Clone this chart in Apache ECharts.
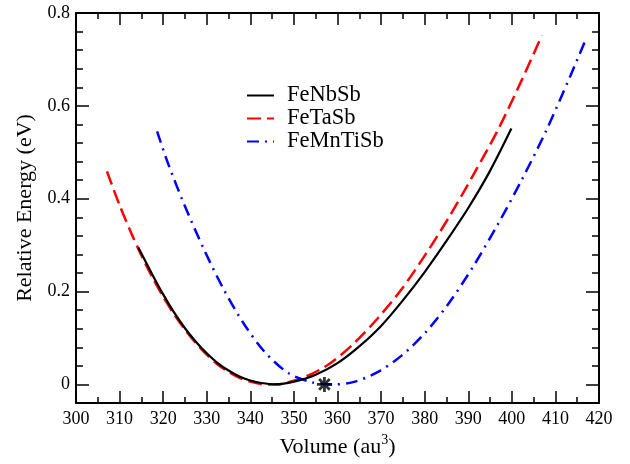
<!DOCTYPE html>
<html>
<head>
<meta charset="utf-8">
<script src="https://cdn.jsdelivr.net/npm/echarts@6/dist/echarts.min.js"></script>
<style>html,body{margin:0;padding:0;background:#fff}#c{width:630px;height:464px}</style>
</head>
<body>
<div id="c"></div>
<script>
// Data
var nbV = [314.3, 317.5, 320.0, 322.5, 325.0, 327.5, 330.0, 332.5, 335.0, 337.5, 340.0, 342.5, 345.8, 350.0, 355.0, 360.0, 365.0, 370.0, 375.0, 380.0, 385.0, 390.0, 395.0, 399.9];
var nbE = [0.295, 0.237, 0.194, 0.155, 0.121, 0.092, 0.067, 0.046, 0.030, 0.017, 0.0085, 0.003, 0.000, 0.006, 0.021, 0.046, 0.082, 0.126, 0.181, 0.242, 0.309, 0.380, 0.460, 0.551];

var taV = [307.1, 310.0, 312.5, 315.0, 317.5, 320.0, 322.5, 325.0, 327.5, 330.0, 332.5, 335.0, 337.5, 340.0, 342.5, 345.2, 347.0, 352.5, 358.1, 363.6, 369.1, 374.7, 380.2, 385.7, 391.2, 396.8, 402.3, 406.9];
var taE = [0.459, 0.386, 0.330, 0.278, 0.231, 0.189, 0.151, 0.118, 0.089, 0.064, 0.043, 0.027, 0.014, 0.006, 0.001, 0.000, 0.001, 0.016, 0.044, 0.087, 0.141, 0.205, 0.280, 0.362, 0.452, 0.548, 0.656, 0.752];

var mnV = [318.6, 321.2, 324.9, 329.5, 334.1, 338.7, 343.3, 348.8, 354.4, 359.0, 363.6, 369.1, 374.7, 380.2, 385.7, 391.2, 396.8, 402.3, 407.8, 413.4, 417.0];
var mnE = [0.545, 0.474, 0.386, 0.288, 0.201, 0.128, 0.070, 0.024, 0.004, 0.000, 0.005, 0.026, 0.062, 0.112, 0.177, 0.255, 0.345, 0.441, 0.545, 0.664, 0.744];

var starV = [357.0];
var starE = [0.0];

var seriesNames = ['FeNbSb', 'FeTaSb', 'FeMnTiSb'];
var xTickLabels = ['300','310','320','330','340','350','360','370','380','390','400','410','420'];
var yTickLabels = ['0', '0.2', '0.4', '0.6', '0.8'];

function zip(a, b) { return a.map(function (v, i) { return [v, b[i]]; }); }

var chart = echarts.init(document.getElementById('c'), null, {renderer: 'canvas'});
var serif = "'Liberation Serif', 'Times New Roman', serif";

var option = {
  animation: false,
  backgroundColor: '#fff',
  textStyle: {fontFamily: serif},
  grid: {left: 76, right: 31, top: 13, bottom: 61, containLabel: false},
  legend: {
    data: seriesNames,
    orient: 'vertical',
    left: 246,
    top: 84,
    padding: 0,
    itemWidth: 27,
    itemHeight: 14,
    itemGap: 0,
    itemStyle: {opacity: 0},
    textStyle: {fontFamily: serif, fontSize: 22.5, color: '#000', padding: [0, 0, 0, 8], lineHeight: 22.5}
  },
  xAxis: [{
    type: 'value', min: 300, max: 420, interval: 10, position: 'bottom',
    name: 'Volume (au{sup|3})', nameLocation: 'middle', nameGap: 30,
    nameTextStyle: {fontFamily: serif, fontSize: 22, color: '#000',
      rich: {sup: {fontFamily: serif, fontSize: 14, color: '#000', verticalAlign: 'top', padding: [0, 0, 14, 0]}}},
    axisLine: {show: true, onZero: false, lineStyle: {color: '#000', width: 2}},
    axisTick: {show: true, inside: true, length: 12, lineStyle: {color: '#000', width: 1.5}},
    minorTick: {show: true, splitNumber: 2, length: 6, lineStyle: {color: '#000', width: 1.5}},
    axisLabel: {fontFamily: serif, fontSize: 18, color: '#000', margin: 7,
      formatter: function (v) { return xTickLabels[Math.round((v - 300) / 10)]; }},
    splitLine: {show: false}
  }, {
    type: 'value', min: 300, max: 420, interval: 10, position: 'top',
    axisLine: {show: true, onZero: false, lineStyle: {color: '#000', width: 2}},
    axisTick: {show: true, inside: true, length: 12, lineStyle: {color: '#000', width: 1.5}},
    minorTick: {show: true, splitNumber: 2, length: 6, lineStyle: {color: '#000', width: 1.5}},
    axisLabel: {show: false}, splitLine: {show: false}
  }],
  yAxis: [{
    type: 'value', min: -0.04, max: 0.8, interval: 0.04, position: 'left',
    axisLine: {show: true, onZero: false, lineStyle: {color: '#000', width: 2}},
    axisTick: {show: true, inside: true, length: 7, lineStyle: {color: '#000', width: 1.5}},
    axisLabel: {show: false}, splitLine: {show: false}
  }, {
    type: 'value', min: -0.04, max: 0.8, position: 'left', splitNumber: 5,
    name: 'Relative Energy (eV)', nameLocation: 'middle', nameGap: 40,
    nameTextStyle: {fontFamily: serif, fontSize: 22, color: '#000'},
    axisLine: {show: false, onZero: false},
    axisTick: {show: true, inside: true, length: 13, lineStyle: {color: '#000', width: 1.5}},
    axisLabel: {show: true, showMinLabel: false, fontFamily: serif, fontSize: 18, color: '#000', margin: 6,
      formatter: function (v) { var i = Math.round(v / 0.2); return (Math.abs(v - i * 0.2) < 1e-6 && i >= 0) ? yTickLabels[i] : ''; }},
    splitLine: {show: false}
  }, {
    type: 'value', min: -0.04, max: 0.8, interval: 0.04, position: 'right',
    axisLine: {show: true, onZero: false, lineStyle: {color: '#000', width: 2}},
    axisTick: {show: true, inside: true, length: 7, lineStyle: {color: '#000', width: 1.5}},
    axisLabel: {show: false}, splitLine: {show: false}
  }, {
    type: 'value', min: -0.04, max: 0.8, position: 'right', splitNumber: 5,
    axisLine: {show: false, onZero: false},
    axisTick: {show: true, inside: true, length: 13, lineStyle: {color: '#000', width: 1.5}},
    axisLabel: {show: false}, splitLine: {show: false}
  }],
  series: [{
    name: seriesNames[0], type: 'line', xAxisIndex: 0, yAxisIndex: 0,
    data: zip(nbV, nbE), smooth: 0.3, symbol: 'none', z: 3,
    lineStyle: {color: '#000', width: 2.2, type: 'solid'},
    itemStyle: {color: '#000'}
  }, {
    name: seriesNames[1], type: 'line', xAxisIndex: 0, yAxisIndex: 0,
    data: zip(taV, taE), smooth: 0.3, symbol: 'none', z: 2,
    lineStyle: {color: '#ff0000', width: 2.5, type: [14, 6]},
    itemStyle: {color: '#ff0000'}
  }, {
    name: seriesNames[2], type: 'line', xAxisIndex: 0, yAxisIndex: 0,
    data: zip(mnV, mnE), smooth: 0.3, symbol: 'none', z: 2,
    lineStyle: {color: '#0000ff', width: 2.5, type: [12, 6, 2, 6]},
    itemStyle: {color: '#0000ff'}
  }, {
    name: 'star', type: 'scatter', xAxisIndex: 0, yAxisIndex: 0,
    data: zip(starV, starE), z: 5,
    symbol: 'path://M10,0L10,20M0,10L20,10M2.9,2.9L17.1,17.1M2.9,17.1L17.1,2.9',
    symbolSize: 15,
    itemStyle: {color: 'rgba(0,0,0,0)', borderColor: '#000', borderWidth: 2.8}
  }]
};
chart.setOption(option);
</script>
</body>
</html>
